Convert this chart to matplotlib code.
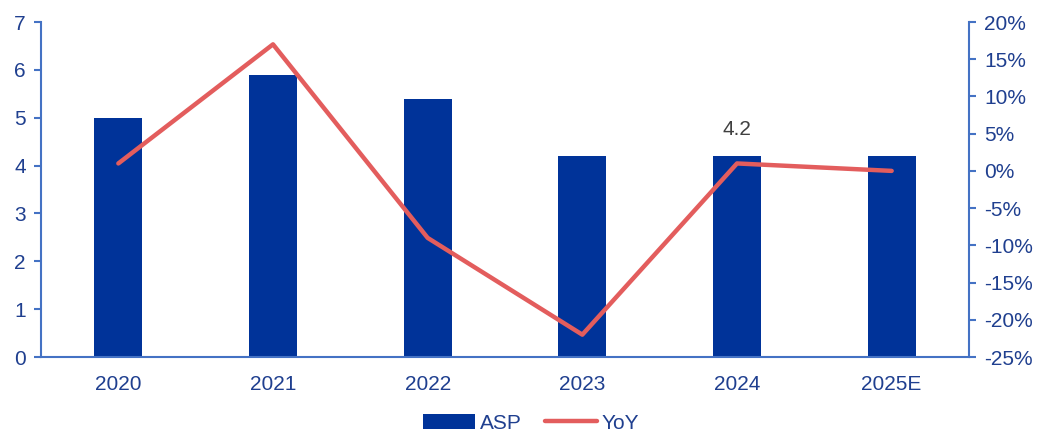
import numpy as np
import matplotlib.pyplot as plt
from matplotlib.ticker import FuncFormatter

years = ['2020', '2021', '2022', '2023', '2024', '2025E']
asp = [5.0, 5.9, 5.4, 4.2, 4.2, 4.2]
yoy = [1, 17, -9, -22, 1, 0]  # percent

bar_color = '#003399'
line_color = '#E35D5D'
axis_color = '#4472C4'
text_color = '#1F3F8F'

plt.rcParams['font.family'] = ['Liberation Sans', 'DejaVu Sans']

fig = plt.figure(figsize=(10.37, 4.36), dpi=100)
ax = fig.add_axes([41 / 1037, 1 - 357 / 436, (969 - 41) / 1037, (357 - 22) / 436])
x = np.arange(len(years))
ax.bar(x, asp, width=0.31, color=bar_color, label='ASP', zorder=2)
ax.set_xlim(-0.5, len(years) - 0.5)
ax.set_ylim(0, 7)
ax.set_yticks(range(0, 8))
ax.set_xticks(x)
ax.set_xticklabels(years)
ax.text(x[4], asp[4] + 0.36, '4.2', ha='center', va='bottom', fontsize=15, color='#404040')

ax2 = ax.twinx()
ax2.plot(x, yoy, color=line_color, lw=3.2, solid_capstyle='round', label='YoY', zorder=3)
ax2.set_ylim(-25, 20)
ax2.set_yticks(range(-25, 21, 5))
ax2.yaxis.set_major_formatter(FuncFormatter(lambda v, p: f'{int(v)}%'))

for a in (ax, ax2):
    for s in a.spines.values():
        s.set_visible(False)
    a.tick_params(colors=axis_color, labelcolor=text_color, labelsize=15, length=5, width=1.5, pad=6)
ax.spines['left'].set_visible(True)
ax.spines['bottom'].set_visible(True)
ax.spines['left'].set_color(axis_color)
ax.spines['bottom'].set_color(axis_color)
ax.spines['left'].set_linewidth(1.5)
ax.spines['bottom'].set_linewidth(1.5)
ax2.spines['right'].set_visible(True)
ax2.spines['right'].set_color(axis_color)
ax2.spines['right'].set_linewidth(1.5)
ax.tick_params(axis='x', length=0, pad=13, labelcolor=text_color)

h1, l1 = ax.get_legend_handles_labels()
h2, l2 = ax2.get_legend_handles_labels()
fig.legend(h1 + h2, l1 + l2, loc='lower center', bbox_to_anchor=(0.512, -0.035), ncol=2,
           frameon=False, fontsize=15, handlelength=2.5, handletextpad=0.25,
           columnspacing=1.1, labelcolor=text_color)

fig.savefig('out.png', dpi=100)
